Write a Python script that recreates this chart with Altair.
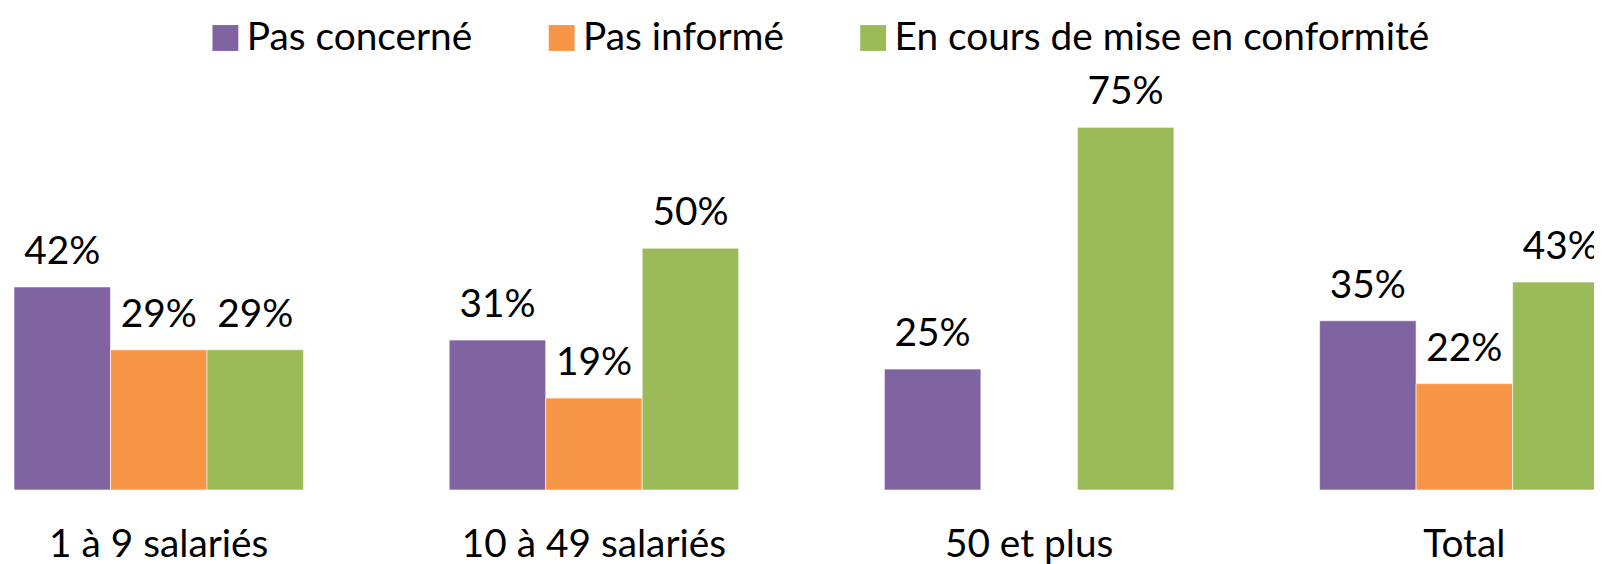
import altair as alt
import pandas as pd

categories = ["1 à 9 salariés", "10 à 49 salariés", "50 et plus", "Total"]
series = ["Pas concerné", "Pas informé", "En cours de mise en conformité"]
pas_concerne = [42, 31, 25, 35]
pas_informe = [29, 19, 0, 22]
en_cours = [29, 50, 75, 43]
colors = ["#8064A2", "#F79646", "#9BBB59"]

rows = []
for name, vals in zip(series, [pas_concerne, pas_informe, en_cours]):
    for cat, v in zip(categories, vals):
        rows.append({"cat": cat, "series": name, "value": v, "label": f"{v}%"})
df = pd.DataFrame(rows)

FONT = "Lato"
FS = 39

base = alt.Chart(df).transform_filter(alt.datum.value > 0).encode(
    x=alt.X("cat:N", sort=categories, title=None,
            scale=alt.Scale(domain=categories, range=[-67.2, 1682.4],
                            paddingInner=0.3347, paddingOuter=0.16735),
            axis=alt.Axis(domain=False, ticks=False, tickSize=0, labelAngle=0,
                          labelFont=FONT, labelFontSize=FS, labelColor="black",
                          labelBaseline="alphabetic", labelPadding=67,
                          labelLimit=1000, grid=False)),
    xOffset=alt.XOffset("series:N", sort=series,
                        scale=alt.Scale(domain=series, paddingInner=0, paddingOuter=0)),
    y=alt.Y("value:Q", scale=alt.Scale(domain=[0, 99.4], nice=False), axis=None),
)

bars = base.mark_bar(stroke="white", strokeWidth=0.6).encode(
    color=alt.Color("series:N", sort=series,
                    scale=alt.Scale(domain=series, range=colors),
                    legend=alt.Legend(title=None, orient="none", direction="horizontal",
                                      legendX=199, legendY=9, symbolType="square",
                                      symbolSize=676, symbolStrokeWidth=0,
                                      labelFont=FONT, labelFontSize=FS, labelColor="black",
                                      labelOffset=2, columnPadding=70, labelLimit=1000,
                                      padding=0))
)

labels = base.mark_text(baseline="alphabetic", dy=-23, font=FONT, fontSize=FS,
                        color="black").encode(text="label:N")

chart = alt.layer(bars, labels).properties(
    width=1594, height=483,
    padding={"left": 0, "top": 0, "right": 0, "bottom": 73},
    autosize=alt.AutoSizeParams(type="none"),
).configure_view(stroke=None)

chart.save("out.html", embed_options={"renderer": "svg", "actions": False})
